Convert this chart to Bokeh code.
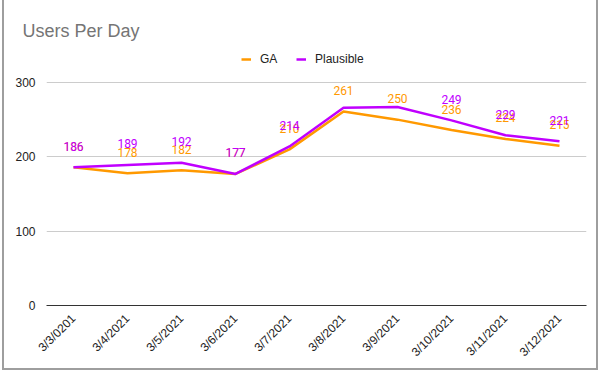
import math
from bokeh.plotting import figure
from bokeh.models import ColumnDataSource, FixedTicker, Legend, LegendItem, Range1d, FactorRange
from bokeh.core.properties import value
from bokeh.embed import file_html
from bokeh.resources import INLINE

dates = ["3/3/0201", "3/4/2021", "3/5/2021", "3/6/2021", "3/7/2021",
         "3/8/2021", "3/9/2021", "3/10/2021", "3/11/2021", "3/12/2021"]
ga = [186, 178, 182, 177, 210, 261, 250, 236, 224, 215]
plausible = [186, 189, 192, 177, 214, 266, 267, 249, 229, 221]
# labels Google Sheets hid because of overlap
plausible_hidden = [False, False, False, False, False, True, True, False, False, False]
y_ticks = [0, 100, 200, 300]

ORANGE = "#ff9900"
PURPLE = "#c000ff"

src = ColumnDataSource(dict(
    x=dates, ga=ga, pl=plausible,
    ga_lab=[str(v) for v in ga],
    pl_lab=["" if h else str(v) for v, h in zip(plausible, plausible_hidden)],
))

p = figure(width=596, height=370, x_range=FactorRange(*dates), y_range=Range1d(0, 345.7),
           output_backend="svg", toolbar_location=None,
           min_border_left=42, min_border_right=14, min_border_top=48, min_border_bottom=65)
p.styles = {"border-left": "2px solid #9e9e9e", "border-right": "2px solid #9e9e9e",
            "border-bottom": "2px solid #9e9e9e", "margin-left": "2px"}
p.outline_line_color = None
p.background_fill_color = "white"
p.border_fill_color = "white"

p.title.text = "Users Per Day"
p.title.text_font = "Liberation Sans"
p.title.text_font_size = "18px"
p.title.text_font_style = "normal"
p.title.text_color = "#757575"
p.title.align = "left"
p.title.offset = -24
p.title.standoff = 16

l1 = p.line("x", "ga", source=src, line_color=ORANGE, line_width=2.5)
l2 = p.line("x", "pl", source=src, line_color=PURPLE, line_width=2.5)

p.text("x", "ga", text="ga_lab", source=src, text_color=ORANGE, text_font=value("Roboto"),
       text_font_size="12px", text_align="center", text_baseline="middle", y_offset=-21)
p.text("x", "pl", text="pl_lab", source=src, text_color=PURPLE, text_font=value("Roboto"),
       text_font_size="12px", text_align="center", text_baseline="middle", y_offset=-21)

p.yaxis.ticker = FixedTicker(ticks=y_ticks)
p.ygrid.ticker = FixedTicker(ticks=y_ticks)
p.ygrid.grid_line_color = "#cccccc"
p.xgrid.grid_line_color = None
p.yaxis.axis_line_color = None
p.yaxis.major_tick_line_color = None
p.yaxis.minor_tick_line_color = None
p.yaxis.major_label_standoff = 5
p.xaxis.major_tick_line_color = None
p.xaxis.axis_line_color = "#333333"
p.xaxis.major_label_orientation = math.pi / 4
p.xaxis.major_label_standoff = 5
for ax in (p.xaxis, p.yaxis):
    ax.major_label_text_font = "Liberation Sans"
    ax.major_label_text_font_size = "12px"
    ax.major_label_text_color = "#222222"

legend = Legend(items=[LegendItem(label="GA", renderers=[l1]),
                       LegendItem(label="Plausible", renderers=[l2])],
                orientation="horizontal", location=(195, 239),
                label_text_font="Liberation Sans", label_text_font_size="12px",
                label_text_color="#222222", glyph_width=10, glyph_height=12,
                label_standoff=9, spacing=16, padding=2, margin=0,
                border_line_color=None, background_fill_alpha=0)
p.add_layout(legend)

open("out.html", "w").write(file_html(p, INLINE))
